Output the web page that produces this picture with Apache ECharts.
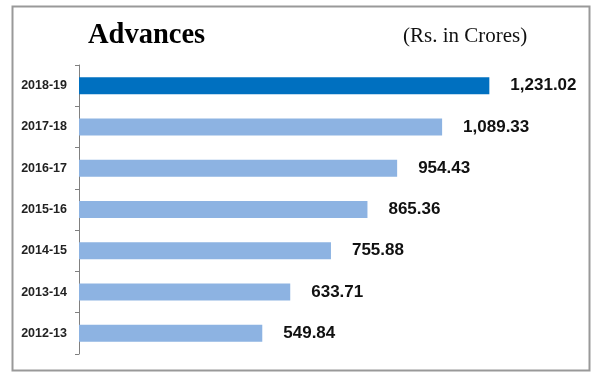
<!DOCTYPE html>
<html>
<head>
<meta charset="utf-8">
<script src="https://cdn.jsdelivr.net/npm/echarts@6/dist/echarts.min.js"></script>
<style>
html,body{margin:0;padding:0;background:#fff;}
#chart{width:591px;height:372px;}
</style>
</head>
<body>
<div id="chart"></div>
<script>
const categories = ['2012-13','2013-14','2014-15','2015-16','2016-17','2017-18','2018-19'];
const advances = [549.84, 633.71, 755.88, 865.36, 954.43, 1089.33, 1231.02];
const highlightCategory = '2018-19';

const chart = echarts.init(document.getElementById('chart'), null, {renderer:'canvas'});
const fmt = v => v.toLocaleString('en-US', {minimumFractionDigits:2, maximumFractionDigits:2});

chart.setOption({
  animation: false,
  backgroundColor: '#ffffff',
  title: [
    {text: 'Advances', left: 88, top: 21, padding: 0, textStyle: {fontFamily: 'Liberation Serif', fontWeight: 'bold', fontSize: 28.5, color: '#000'}},
    {text: '(Rs. in Crores)', left: 403, top: 26, padding: 0, textStyle: {fontFamily: 'Liberation Serif', fontWeight: 'normal', fontSize: 21, color: '#111'}}
  ],
  graphic: [{
    type: 'rect', left: 10, top: 4, shape: {x: 0, y: 0, width: 577, height: 364},
    style: {fill: 'none', stroke: '#999', lineWidth: 2}, z: 100
  }],
  grid: {left: 79, top: 65, width: 500, height: 289, containLabel: false},
  xAxis: {type: 'value', min: 0, max: 1500, show: false},
  yAxis: {
    type: 'category', data: categories,
    axisLine: {show: true, lineStyle: {color: '#808080', width: 1}},
    axisTick: {show: true, length: 4, lineStyle: {color: '#808080'}},
    axisLabel: {fontFamily: 'Liberation Sans', fontWeight: 'bold', fontSize: 12.5, color: '#222', margin: 12},
    splitLine: {show: false}
  },
  series: [{
    type: 'bar', barWidth: 17,
    data: advances.map((v, i) => ({value: v, itemStyle: {color: categories[i] === highlightCategory ? '#0070C0' : '#8DB3E2'}})),
    label: {show: true, position: 'right', distance: 21, formatter: p => fmt(p.value),
      fontFamily: 'Liberation Sans', fontWeight: 'bold', fontSize: 17, color: '#111'}
  }]
});
</script>
</body>
</html>
